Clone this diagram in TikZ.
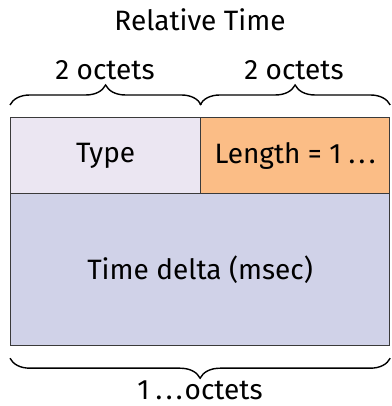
\documentclass[tikz,border=0pt]{standalone}
\usepackage{fontspec}
\setmainfont{Fira Sans}
\usetikzlibrary{decorations.pathreplacing}
\definecolor{typec}{HTML}{EBE6F2}
\definecolor{lenc}{HTML}{FBBD86}
\definecolor{timec}{HTML}{D0D2E8}
\definecolor{edgec}{HTML}{3A3A3A}
\newcommand{\mydots}{.\kern3.5pt.\kern3.5pt.}
\begin{document}
\begin{tikzpicture}[x=1pt,y=1pt,
  field/.style={draw=edgec,line width=1.2pt,minimum height=76pt,inner sep=0pt,font=\fontsize{28}{32}\selectfont},
  lbl/.style={font=\fontsize{28}{32}\selectfont,inner sep=0pt},
  brc/.style={decorate,decoration={brace,amplitude=20pt},line width=1.4pt}]
\useasboundingbox (0,0) rectangle (391,406);
\node[field,fill=typec,minimum width=190pt,anchor=north west] (type) at (10,289) {Type};
\node[field,fill=lenc,minimum width=189pt,anchor=north west] (len) at (200,289) {Length = 1\hspace{7pt}\mydots};
\node[field,fill=timec,minimum width=379pt,minimum height=152pt,anchor=north west] (time) at (10,213) {Time delta (msec)};
\draw[brc] ([yshift=12pt]type.north west) -- ([yshift=12pt]type.north east);
\draw[brc] ([yshift=12pt]len.north west) -- ([yshift=12pt]len.north east);
\draw[brc] ([yshift=-12pt]time.south east) -- ([yshift=-12pt]time.south west);
\node[lbl] (l1) at (105,336) {2 octets};
\node[lbl] (l2) at (294,336) {2 octets};
\node[lbl] (title) at (200,386) {Relative Time};
\node[lbl] (l3) at (200,16) {1\hspace{6pt}\mydots\kern2pt octets};
\end{tikzpicture}
\end{document}
